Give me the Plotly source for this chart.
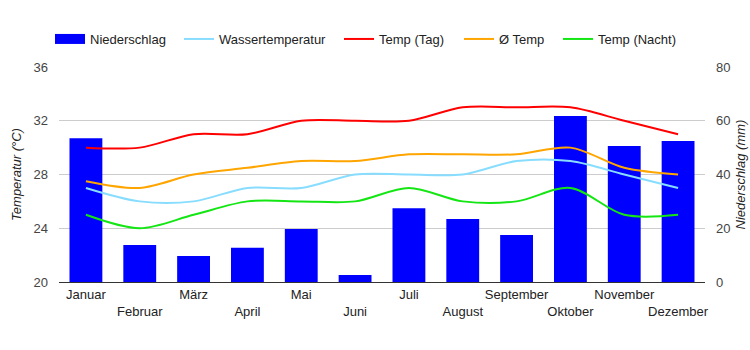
import plotly.graph_objects as go

months = ["Januar", "Februar", "März", "April", "Mai", "Juni", "Juli",
          "August", "September", "Oktober", "November", "Dezember"]
niederschlag = [53.5, 13.8, 9.7, 12.7, 19.7, 2.6, 27.4, 23.4, 17.5, 61.8, 50.6, 52.5]
wasser = [27, 26, 26, 27, 27, 28, 28, 28, 29, 29, 28, 27]
temp_tag = [30, 30, 31, 31, 32, 32, 32, 33, 33, 33, 32, 31]
temp_avg = [27.5, 27, 28, 28.5, 29, 29, 29.5, 29.5, 29.5, 30, 28.5, 28]
temp_nacht = [25, 24, 25, 26, 26, 26, 27, 26, 26, 27, 25, 25]

left_ticks = [20, 24, 28, 32, 36]
right_ticks = [0, 20, 40, 60, 80]

tick_text = [m if i % 2 == 0 else "<br>" + m for i, m in enumerate(months)]

FONT = "Liberation Sans, Arial, sans-serif"
PLOT_L, PLOT_W = 59, 646

fig = go.Figure()
fig.add_trace(go.Bar(x=months, y=niederschlag, name="Niederschlag",
                     marker=dict(color="#0000FF", line=dict(width=0)),
                     width=0.61, yaxis="y", showlegend=False))
# legend entry for the bars (wide rectangle like the reference)
fig.add_trace(go.Scatter(x=[None], y=[None], mode="lines", name="Niederschlag",
                         line=dict(color="#0000FF", width=13), yaxis="y",
                         legend="legend"))
line_series = [
    ("Wassertemperatur", wasser, "#88DDFF", "legend2"),
    ("Temp (Tag)", temp_tag, "#FF0000", "legend3"),
    ("Ø Temp", temp_avg, "#FFA500", "legend4"),
    ("Temp (Nacht)", temp_nacht, "#14E614", "legend5"),
]
for name, vals, col, lg in line_series:
    fig.add_trace(go.Scatter(x=months, y=vals, name=name, mode="lines",
                             line=dict(color=col, width=2, shape="spline", smoothing=0.9),
                             yaxis="y2", legend=lg))

text_x = [91, 220, 380, 500, 599]
legends = {}
for i, tx in enumerate(text_x):
    key = "legend" if i == 0 else f"legend{i+1}"
    legends[key] = dict(orientation="h", x=(tx - 41 - PLOT_L) / PLOT_W, xanchor="left",
                        y=1 + 28 / 215, yanchor="middle", yref="paper",
                        font=dict(size=13, color="#222"), itemwidth=30,
                        bgcolor="rgba(0,0,0,0)")

fig.update_layout(
    width=750, height=350,
    margin=dict(l=PLOT_L, r=45, t=67, b=68),
    paper_bgcolor="white", plot_bgcolor="white",
    font=dict(family=FONT, size=13, color="#222"),
    showlegend=True,
    bargap=0.39,
    xaxis=dict(type="category", tickmode="array", tickvals=months, ticktext=tick_text,
               tickangle=0, automargin=False,
               showgrid=False, showline=True, linecolor="#333", linewidth=1,
               ticks="", tickfont=dict(size=13, color="#222"), range=[-0.5, 11.5]),
    yaxis=dict(side="right", range=[0, 80], tickvals=right_ticks, automargin=False,
               showgrid=True, gridcolor="#CCCCCC", zeroline=False,
               ticks="", tickfont=dict(size=13, color="#444"), ticklabelstandoff=10,
               title=dict(text="<i>Niederschlag (mm)</i>", font=dict(size=13, color="#222"), standoff=6)),
    yaxis2=dict(side="left", overlaying="y", range=[20, 36], tickvals=left_ticks,
                automargin=False, showgrid=False, zeroline=False,
                ticks="", tickfont=dict(size=13, color="#444"), ticklabelstandoff=10,
                title=dict(text="<i>Temperatur (°C)</i>", font=dict(size=13, color="#222"), standoff=8)),
    **legends,
)

fig.write_html("out.html")
